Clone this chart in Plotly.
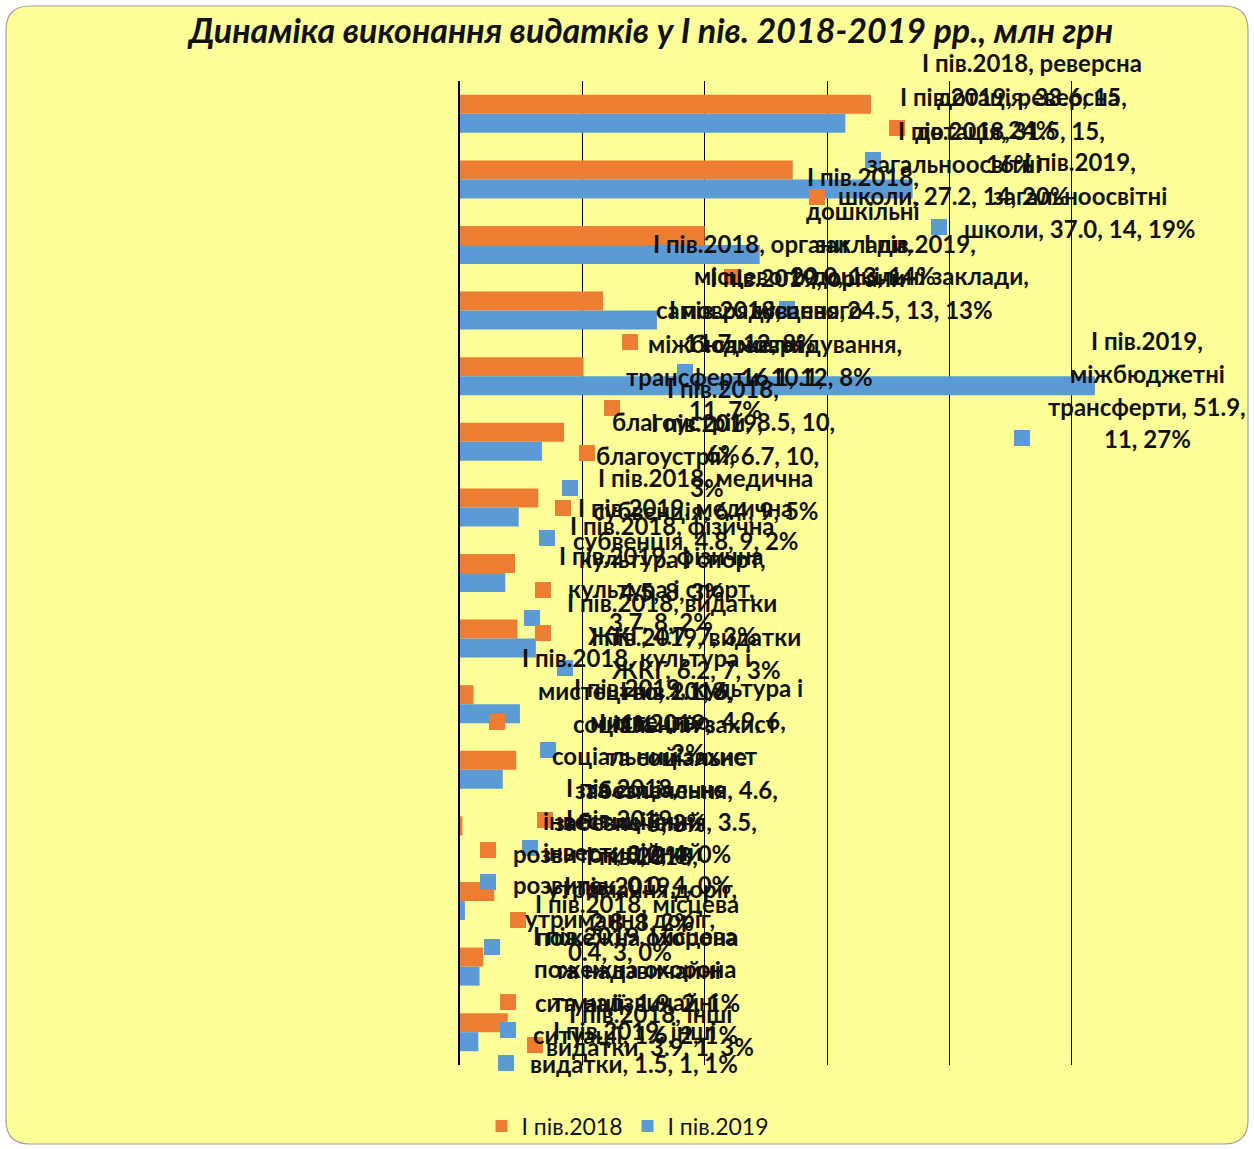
import plotly.graph_objects as go

# ---------------- data ----------------
categories = [
    "реверсна дотація", "загальноосвітні школи", "дошкільні заклади",
    "органи місцевого самоврядування", "міжбюджетні трансферти", "благоустрій",
    "медична субвенція", "фізична культура і спорт", "видатки ЖКГ",
    "культура і мистецтво", "соціальний захист та соціальне забезпечення",
    "інвестиційний розвиток", "утримання доріг",
    "місцева пожежна охорона та надзвичайні ситуації", "інші видатки",
]
ranks = [15, 14, 13, 12, 11, 10, 9, 8, 7, 6, 5, 4, 3, 2, 1]
series_names = ["І пів.2018", "І пів.2019"]
v2018 = [33.6, 27.2, 20.0, 11.7, 10.1, 8.5, 6.4, 4.5, 4.7, 1.1, 4.6, 0.2, 2.8, 1.9, 3.9]
v2019 = [31.5, 37.0, 24.5, 16.1, 51.9, 6.7, 4.8, 3.7, 6.2, 4.9, 3.5, 0.0, 0.4, 1.6, 1.5]
pct2018 = [24, 20, 14, 8, 7, 6, 5, 3, 3, 1, 3, 0, 2, 1, 3]
pct2019 = [16, 19, 13, 8, 27, 3, 2, 2, 3, 2, 2, 0, 0, 1, 1]

# ---------------- label layout (words per line, positions in px) ----------------
wrap2018 = [[3, 3, 1], [2, 1, 4], [2, 1, 1, 3], [3, 1, 1, 3], [2, 1, 2, 2], [2, 3, 1],
            [3, 4], [3, 3, 3], [3, 4], [4, 3, 1], [2, 2, 2, 2, 2], [2, 1, 4], [2, 2, 3],
            [3, 2, 2, 4], [3, 4]]
wrap2019 = [[3, 3, 1], [2, 1, 4], [2, 2, 3], [3, 1, 1, 3], [2, 1, 2, 2], [2, 3, 1],
            [3, 4], [3, 3, 3], [3, 4], [4, 3, 1], [2, 2, 2, 2, 2], [2, 1, 4], [2, 2, 3],
            [3, 2, 2, 4], [3, 4]]
# (text centre x, first line y, key x, key y)
pos2018 = [(1032, 63, 897, 128), (954, 130, 817, 197), (863, 177, 732, 277),
           (750, 243, 630, 342), (725, 310, 612, 408), (723, 388, 587, 453),
           (705, 477, 563, 508), (672, 525, 543, 590), (672, 602, 543, 633),
           (636, 657, 497, 722), (676, 690, 545, 820), (622, 787, 488, 850),
           (642, 855, 518, 920), (637, 903, 508, 1002), (650, 1013, 535, 1045)]
pos2019 = [(1010, 97, 873, 160), (1080, 162, 939, 227), (920, 243, 787, 309),
           (807, 277, 685, 372), (1147, 340, 1022, 438), (707, 422, 570, 488),
           (685, 507, 547, 538), (661, 555, 532, 618), (696, 636, 565, 668),
           (688, 687, 548, 750), (655, 722, 530, 848), (622, 818, 488, 882),
           (620, 885, 492, 947), (635, 935, 508, 1030), (634, 1030, 506, 1063)]

COL18 = "#ED7D31"
COL19 = "#5B9BD5"
BG = "#FFFF99"
W, H = 1254, 1149
PL, PR, PT, PB = 460, 1194, 81, 1065  # plot area in px
LINE_H = 33
FONT = "Lato"


def px(x):
    return (x - PL) / (PR - PL)


def py(y):
    return (PB - y) / (PB - PT)


fig = go.Figure()
fig.add_trace(go.Bar(y=categories, x=v2018, orientation="h", name=series_names[0],
                     marker=dict(color=COL18, line=dict(width=0))))
fig.add_trace(go.Bar(y=categories, x=v2019, orientation="h", name=series_names[1],
                     marker=dict(color=COL19, line=dict(width=0))))

annotations = []
shapes = []

# frame with rounded corners
r = 24
x0, x1, y0, y1 = 6, 1248, 6, 1144
path = (f"M {px(x0 + r)},{py(y0)} L {px(x1 - r)},{py(y0)} Q {px(x1)},{py(y0)} {px(x1)},{py(y0 + r)} "
        f"L {px(x1)},{py(y1 - r)} Q {px(x1)},{py(y1)} {px(x1 - r)},{py(y1)} "
        f"L {px(x0 + r)},{py(y1)} Q {px(x0)},{py(y1)} {px(x0)},{py(y1 - r)} "
        f"L {px(x0)},{py(y0 + r)} Q {px(x0)},{py(y0)} {px(x0 + r)},{py(y0)} Z")
shapes.append(dict(type="path", path=path, xref="paper", yref="paper", layer="below",
                   fillcolor=BG, line=dict(color="#A0A0A0", width=1.2)))


def add_label(series, cat, val, rank, pct, wrap, pos, color):
    words = f"{series}, {cat}, {val:.1f}, {rank}, {pct}%".split(" ")
    cx, ly, sx, sy = pos
    i = 0
    for k, n in enumerate(wrap):
        line = " ".join(words[i:i + n])
        i += n
        annotations.append(dict(text=line, xref="paper", yref="paper", x=px(cx), y=py(ly + k * LINE_H),
                                xanchor="center", yanchor="middle", showarrow=False,
                                font=dict(family=FONT, size=24, color="#111111", weight="bold")))
    s = 8
    shapes.append(dict(type="rect", xref="paper", yref="paper", x0=px(sx - s), x1=px(sx + s),
                       y0=py(sy + s), y1=py(sy - s), fillcolor=color, line=dict(width=0)))


for i in range(len(categories)):
    add_label(series_names[0], categories[i], v2018[i], ranks[i], pct2018[i], wrap2018[i], pos2018[i], COL18)
    add_label(series_names[1], categories[i], v2019[i], ranks[i], pct2019[i], wrap2019[i], pos2019[i], COL19)

fig.update_layout(
    width=W, height=H, autosize=False,
    margin=dict(l=PL, r=W - PR, t=PT, b=H - PB, pad=0, autoexpand=False),
    paper_bgcolor="white", plot_bgcolor="rgba(0,0,0,0)",
    barmode="group", bargap=0.42, bargroupgap=0,
    title=dict(text="<b><i>Динаміка виконання видатків у І пів. 2018-2019 рр., млн грн</i></b>",
               x=651 / W, y=1 - 31 / H, xanchor="center", yanchor="middle", xref="container", yref="container",
               font=dict(family=FONT, size=34, color="#111111")),
    xaxis=dict(range=[0, 60], dtick=10, tick0=0, showgrid=True, gridcolor="#000000", gridwidth=1,
               showticklabels=False, zeroline=False, showline=False, ticks=""),
    yaxis=dict(autorange="reversed", showticklabels=False, showgrid=False, zeroline=False,
               showline=True, linecolor="#000000", linewidth=1.5, ticks=""),
    legend=dict(orientation="h", xref="container", yref="container", x=628 / W, y=1 - 1126 / H,
                xanchor="center", yanchor="middle",
                font=dict(family=FONT, size=23, color="#111111"), bgcolor="rgba(0,0,0,0)",
                itemwidth=30, traceorder="normal"),
    annotations=annotations, shapes=shapes,
)

fig.write_html("out.html", config={"displayModeBar": False},
               post_script="document.body.style.margin='0';document.body.style.overflow='hidden';")
